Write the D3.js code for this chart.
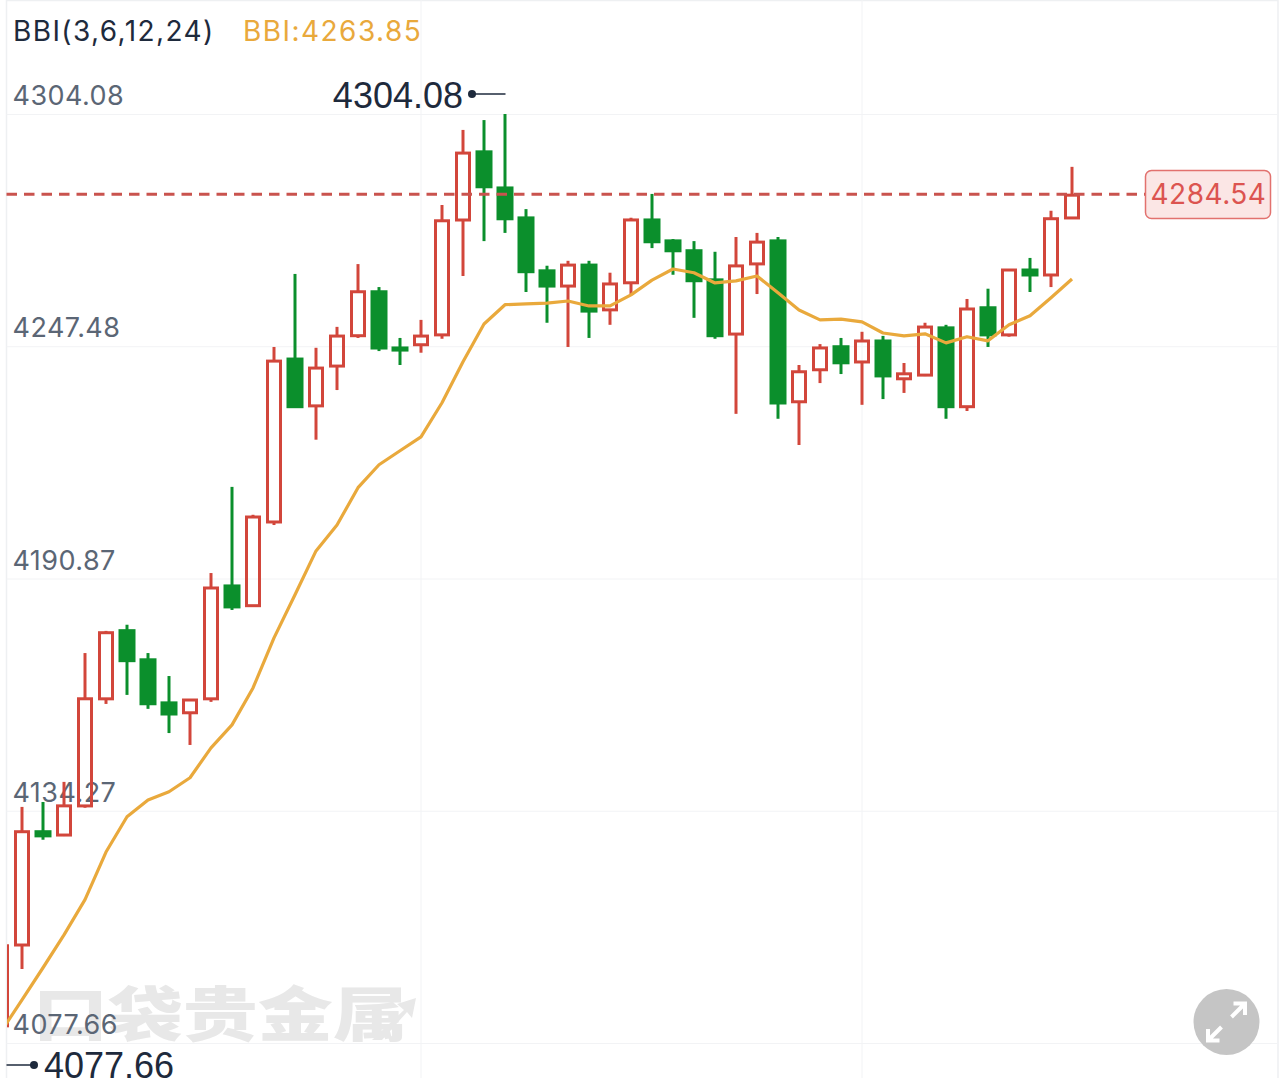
<!DOCTYPE html>
<html><head><meta charset="utf-8">
<script src="https://cdn.jsdelivr.net/npm/d3@7/dist/d3.min.js"></script>
<style>html,body{margin:0;padding:0;background:#fff;overflow:hidden}svg{display:block}</style>
</head><body><svg id="c" width="1284" height="1078"></svg>
<script>
const opens=[4081.6,4101.3,4129.4,4128.1,4135.2,4161.3,4178.4,4171.3,4160.8,4157.9,4161.3,4189.3,4184.0,4204.4,4244.6,4232.7,4242.4,4249.8,4261.0,4247.3,4247.6,4250.0,4278.0,4295.1,4286.3,4279.0,4266.1,4261.9,4267.5,4256.1,4262.7,4278.5,4273.4,4271.0,4263.9,4250.2,4267.3,4273.4,4233.7,4241.5,4247.6,4243.4,4249.0,4239.3,4240.2,4252.2,4232.5,4257.1,4250.0,4266.3,4264.6,4278.5];
const highs=[4101.6,4135.2,4136.4,4141.3,4172.7,4178.1,4179.6,4172.7,4167.1,4161.5,4192.2,4213.2,4206.4,4247.3,4265.1,4247.1,4252.2,4267.5,4261.9,4249.5,4253.9,4281.9,4300.2,4302.6,4304.08,4280.9,4267.1,4268.3,4268.3,4265.4,4278.8,4284.6,4273.6,4273.1,4270.5,4274.1,4275.1,4274.1,4242.9,4248.0,4249.5,4251.0,4250.0,4243.4,4253.2,4252.7,4259.0,4261.5,4266.3,4269.0,4280.5,4291.2];
const lows=[4081.6,4095.7,4127.2,4128.1,4135.0,4160.3,4162.5,4159.1,4153.2,4150.3,4160.8,4183.2,4184.0,4203.9,4232.5,4224.7,4236.8,4249.5,4246.3,4242.9,4245.9,4249.3,4264.6,4273.1,4275.1,4260.7,4253.2,4247.3,4249.5,4252.7,4260.2,4271.4,4264.9,4254.4,4249.3,4231.0,4260.2,4229.8,4223.4,4238.5,4240.7,4233.2,4234.6,4236.1,4240.2,4229.8,4231.7,4247.3,4249.8,4260.7,4261.9,4278.5];
const closes=[4101.6,4129.4,4127.9,4135.7,4161.8,4177.9,4170.6,4160.1,4157.6,4161.5,4188.8,4183.7,4206.1,4244.1,4232.5,4242.4,4250.2,4261.0,4246.8,4246.3,4250.2,4278.3,4294.8,4286.1,4278.3,4265.4,4261.9,4267.5,4255.8,4262.9,4278.5,4272.7,4270.5,4263.2,4249.8,4267.3,4273.1,4233.4,4241.5,4247.3,4243.2,4249.0,4240.0,4241.0,4252.4,4232.5,4256.8,4250.0,4266.3,4264.6,4278.8,4284.54];
const bbi=[4080.4,4088.2,4096.0,4104.0,4112.6,4124.2,4132.8,4136.9,4138.9,4142.3,4149.6,4155.2,4164.2,4176.4,4186.9,4197.6,4203.9,4213.0,4218.6,4222.0,4225.4,4233.7,4243.7,4252.9,4257.6,4257.8,4258.0,4258.5,4257.3,4257.3,4260.0,4263.6,4266.3,4265.4,4262.9,4263.4,4264.6,4260.5,4256.3,4253.9,4254.1,4253.4,4250.7,4250.0,4250.5,4248.3,4249.8,4248.8,4252.7,4254.9,4259.3,4263.85];
const priceTicks=[4304.08,4247.48,4190.87,4134.27,4077.66];
const verticalGridIdx=[20,41];
const lastPrice=4284.54, maxPrice=4304.08, minPrice=4077.66;
const legendTitle="BBI(3,6,12,24)", legendValue="BBI:4263.85", watermark="口袋贵金属";

const RED="#d2463b",GREEN="#0b8f2c",GRID="#f2f3f5",INK="#1e2a3c",AXIS="#5b6675",AMBER="#e9a93c";
const svg=d3.select("#c");
const x=d3.scaleLinear().domain([0,51]).range([1,1072]);
const y=d3.scaleLinear().domain([minPrice,maxPrice]).range([1043,114]);
const L=6.5,R=1278;
const fmt=d3.format(".2f");

svg.append("defs").append("clipPath").attr("id","plot").append("rect").attr("x",7).attr("y",0).attr("width",1271).attr("height",1078);

// frame
svg.append("path").attr("d",`M${L},1078V0.5H${R}V1078`).attr("fill","none").attr("stroke","#eef0f2").attr("stroke-width",1.5);

// grid
svg.append("g").selectAll("line").data(verticalGridIdx).join("line")
 .attr("x1",d=>x(d)).attr("x2",d=>x(d)).attr("y1",0).attr("y2",1078).attr("stroke",GRID);

// watermark
svg.append("text").attr("transform","translate(33,1036) scale(1.27,1)").attr("font-family","'Noto Sans CJK SC'").attr("font-weight",900)
 .attr("font-size",59).attr("fill","#e8e8e8").text(watermark);
svg.append("path").attr("d","M372,1040L404,1010L397,1004L416,998L412,1018L407,1012L382,1040Z").attr("fill","#e8e8e8");

// y axis (grid + labels)
const axis=d3.axisRight(y).tickValues(priceTicks).tickSize(R-L).tickFormat(fmt);
const ag=svg.append("g").attr("transform",`translate(${L},0)`).call(axis);
ag.select(".domain").remove();
ag.selectAll("line").attr("stroke",GRID);
ag.selectAll("text").attr("x",6).attr("dy",-9.5).attr("text-anchor","start")
 .attr("font-family","Inter").attr("font-size",27).attr("letter-spacing",0.45).attr("fill",AXIS);

// candles
const idx=d3.range(opens.length);
const plot=svg.append("g").attr("clip-path","url(#plot)");
const up=i=>closes[i]>=opens[i];
const color=i=>up(i)?RED:GREEN;
const topP=i=>Math.max(opens[i],closes[i]), botP=i=>Math.min(opens[i],closes[i]);
plot.selectAll("line.hi").data(idx).join("line").attr("class","hi")
 .attr("x1",x).attr("x2",x).attr("y1",i=>y(highs[i])).attr("y2",i=>y(topP(i))+1)
 .attr("stroke",color).attr("stroke-width",3);
plot.selectAll("line.lo").data(idx).join("line").attr("class","lo")
 .attr("x1",x).attr("x2",x).attr("y1",i=>y(botP(i))-1).attr("y2",i=>y(lows[i]))
 .attr("stroke",color).attr("stroke-width",3);
plot.selectAll("rect.b").data(idx).join("rect").attr("class","b")
 .attr("x",i=>x(i)-(up(i)?6.5:8.5))
 .attr("width",i=>up(i)?13:17)
 .attr("y",i=>y(topP(i))+(up(i)?1:-0.5))
 .attr("height",i=>up(i)?Math.max(1,y(botP(i))-y(topP(i))-2):y(botP(i))-y(topP(i))+1)
 .attr("fill",i=>up(i)?"none":GREEN)
 .attr("stroke",i=>up(i)?RED:"none").attr("stroke-width",3);

// last price dashed
const yLast=y(lastPrice);
svg.append("line").attr("x1",L).attr("x2",1145).attr("y1",yLast).attr("y2",yLast)
 .attr("stroke","#c9534e").attr("stroke-width",3).attr("stroke-dasharray","10.5 7");

// BBI line
plot.append("path").attr("fill","none").attr("stroke",AMBER).attr("stroke-width",3.2).attr("stroke-linejoin","round")
 .attr("d",d3.line().x((d,i)=>x(i)).y(d=>y(d))(bbi));

// last price tag
svg.append("rect").attr("x",1145.5).attr("y",170.5).attr("width",125).attr("height",48).attr("rx",6)
 .attr("fill","#fbe6e5").attr("stroke","#e2716e").attr("stroke-width",1.5);
svg.append("text").attr("x",1208.5).attr("y",204).attr("text-anchor","middle").attr("font-family","Inter")
 .attr("font-size",28).attr("letter-spacing",0.5).attr("fill","#dc5450").text(fmt(lastPrice));

// legend
svg.append("text").attr("x",13).attr("y",41).attr("font-family","Inter").attr("font-size",28).attr("letter-spacing",1.4).attr("fill",INK).text(legendTitle);
svg.append("text").attr("x",243).attr("y",41).attr("font-family","Inter").attr("font-size",28).attr("letter-spacing",1.45).attr("fill",AMBER).text(legendValue);

// max / min markers
const maxY=94,minY=1065;
svg.append("text").attr("x",463).attr("y",108).attr("text-anchor","end").attr("font-family","'Liberation Sans'").attr("font-size",36).attr("fill",INK).text(fmt(maxPrice));
svg.append("circle").attr("cx",472).attr("cy",maxY).attr("r",4).attr("fill",INK);
svg.append("line").attr("x1",472).attr("x2",505.5).attr("y1",maxY).attr("y2",maxY).attr("stroke",INK).attr("stroke-width",1.5);
svg.append("text").attr("x",44).attr("y",1078).attr("font-family","'Liberation Sans'").attr("font-size",36).attr("fill",INK).text(fmt(minPrice));
svg.append("circle").attr("cx",34).attr("cy",minY).attr("r",4).attr("fill",INK);
svg.append("line").attr("x1",L).attr("x2",34).attr("y1",minY).attr("y2",minY).attr("stroke",INK).attr("stroke-width",1.5);

// expand button
const b=svg.append("g").attr("transform","translate(1226.5,1022)");
b.append("circle").attr("r",33).attr("fill","#c5c5c5");
b.append("path").attr("d","M5,-5L17,-17M7,-18.5H18.5V-7M-5,5L-17,17M-7,18.5H-18.5V7")
 .attr("fill","none").attr("stroke","#fff").attr("stroke-width",4);
</script></body></html>
